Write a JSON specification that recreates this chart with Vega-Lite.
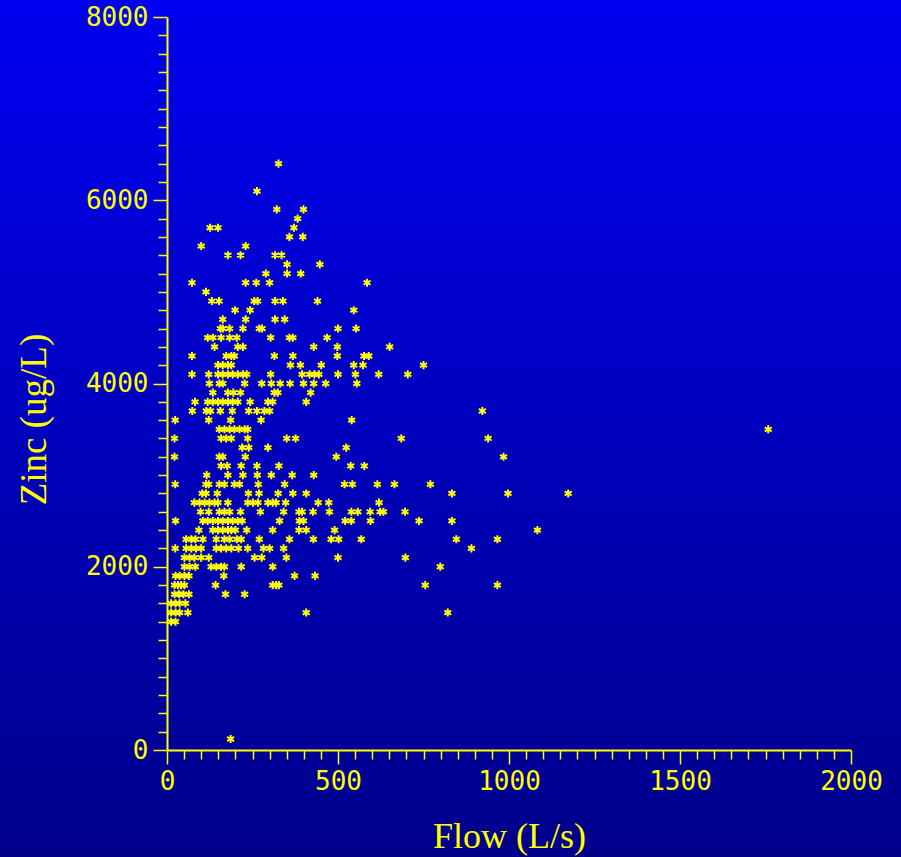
{
  "$schema": "https://vega.github.io/schema/vega-lite/v6.json",
  "width": 684,
  "height": 733,
  "autosize": "none",
  "padding": {"left": 167, "top": 17, "right": 50, "bottom": 107},
  "background": "#0000c0",
  "config": {"view": {"stroke": null}},
  "layer": [
    {
      "data": {"values": [{}]},
      "mark": {
        "type": "rect",
        "fill": {
          "gradient": "linear",
          "x1": 0, "y1": 0, "x2": 0, "y2": 1,
          "stops": [
            {"offset": 0, "color": "#0000F5"},
            {"offset": 1, "color": "#000088"}
          ]
        }
      },
      "encoding": {
        "x": {
          "datum": -600, "type": "quantitative",
          "scale": {"domain": [0, 2000], "nice": false},
          "title": "Flow (L/s)",
          "axis": {
            "values": [0,50,100,150,200,250,300,350,400,450,500,550,600,650,700,750,800,850,900,950,1000,1050,1100,1150,1200,1250,1300,1350,1400,1450,1500,1550,1600,1650,1700,1750,1800,1850,1900,1950,2000],
            "labelExpr": "datum.value % 500 === 0 ? '' + datum.value : ''",
            "tickSize": {"condition": {"test": "datum.value % 500 === 0", "value": 14}, "value": 9},
            "grid": false,
            "zindex": 1,
            "domainColor": "#FFFF00",
            "domainWidth": 2,
            "tickColor": "#FFFF00",
            "tickWidth": 1.5,
            "labelColor": "#FFFF00",
            "labelFont": "DejaVu Sans Mono",
            "labelFontSize": 26,
            "labelPadding": 4,
            "labelFlush": false,
            "labelOverlap": false,
            "labelBaseline": "top",
            "titleColor": "#FFFF00",
            "titleFont": "Liberation Serif",
            "titleFontSize": 36,
            "titleFontWeight": "normal",
            "titleX": 342,
            "titleY": 97,
            "titleBaseline": "alphabetic",
            "titleAlign": "center"
          }
        },
        "x2": {"datum": 2300},
        "y": {
          "datum": -1400, "type": "quantitative",
          "scale": {"domain": [0, 8000], "nice": false},
          "title": "Zinc (ug/L)",
          "axis": {
            "values": [0,200,400,600,800,1000,1200,1400,1600,1800,2000,2200,2400,2600,2800,3000,3200,3400,3600,3800,4000,4200,4400,4600,4800,5000,5200,5400,5600,5800,6000,6200,6400,6600,6800,7000,7200,7400,7600,7800,8000],
            "labelExpr": "datum.value % 2000 === 0 ? '' + datum.value : ''",
            "tickSize": {"condition": {"test": "datum.value % 2000 === 0", "value": 14}, "value": 9},
            "grid": false,
            "zindex": 1,
            "domainColor": "#FFFF00",
            "domainWidth": 2,
            "tickColor": "#FFFF00",
            "tickWidth": 1.5,
            "labelColor": "#FFFF00",
            "labelFont": "DejaVu Sans Mono",
            "labelFontSize": 26,
            "labelPadding": 5,
            "labelFlush": false,
            "labelOverlap": false,
            "labelBaseline": "middle",
            "titleColor": "#FFFF00",
            "titleFont": "Liberation Serif",
            "titleFontSize": 37,
            "titleFontWeight": "normal",
            "titleAngle": -90,
            "titleX": -122,
            "titleY": 402,
            "titleBaseline": "alphabetic",
            "titleAlign": "center"
          }
        },
        "y2": {"datum": 8500}
      }
    },
    {
      "data": {"values": [
        {"flow":326,"zinc":6400},
        {"flow":263,"zinc":6100},
        {"flow":321,"zinc":5900},{"flow":399,"zinc":5900},
        {"flow":382,"zinc":5800},
        {"flow":126,"zinc":5700},{"flow":149,"zinc":5700},{"flow":371,"zinc":5700},
        {"flow":358,"zinc":5600},{"flow":397,"zinc":5600},
        {"flow":100,"zinc":5500},{"flow":230,"zinc":5500},
        {"flow":178,"zinc":5400},{"flow":215,"zinc":5400},{"flow":316,"zinc":5400},{"flow":335,"zinc":5400},
        {"flow":351,"zinc":5300},{"flow":447,"zinc":5300},
        {"flow":289,"zinc":5200},{"flow":351,"zinc":5200},{"flow":391,"zinc":5200},
        {"flow":73,"zinc":5100},{"flow":230,"zinc":5100},{"flow":261,"zinc":5100},{"flow":300,"zinc":5100},{"flow":585,"zinc":5100},
        {"flow":114,"zinc":5000},
        {"flow":131,"zinc":4900},{"flow":152,"zinc":4900},{"flow":255,"zinc":4900},{"flow":265,"zinc":4900},{"flow":316,"zinc":4900},{"flow":339,"zinc":4900},{"flow":440,"zinc":4900},
        {"flow":199,"zinc":4800},{"flow":243,"zinc":4800},{"flow":546,"zinc":4800},
        {"flow":163,"zinc":4700},{"flow":230,"zinc":4700},{"flow":316,"zinc":4700},{"flow":344,"zinc":4700},
        {"flow":156,"zinc":4600},{"flow":163,"zinc":4600},{"flow":183,"zinc":4600},{"flow":222,"zinc":4600},{"flow":270,"zinc":4600},{"flow":278,"zinc":4600},{"flow":500,"zinc":4600},{"flow":553,"zinc":4600},
        {"flow":119,"zinc":4500},{"flow":134,"zinc":4500},{"flow":158,"zinc":4500},{"flow":183,"zinc":4500},{"flow":204,"zinc":4500},{"flow":303,"zinc":4500},{"flow":358,"zinc":4500},{"flow":368,"zinc":4500},{"flow":468,"zinc":4500},
        {"flow":139,"zinc":4400},{"flow":207,"zinc":4400},{"flow":222,"zinc":4400},{"flow":429,"zinc":4400},{"flow":498,"zinc":4400},{"flow":651,"zinc":4400},
        {"flow":73,"zinc":4300},{"flow":173,"zinc":4300},{"flow":188,"zinc":4300},{"flow":197,"zinc":4300},{"flow":314,"zinc":4300},{"flow":368,"zinc":4300},{"flow":498,"zinc":4300},{"flow":576,"zinc":4300},{"flow":590,"zinc":4300},
        {"flow":149,"zinc":4200},{"flow":163,"zinc":4200},{"flow":178,"zinc":4200},{"flow":188,"zinc":4200},{"flow":361,"zinc":4200},{"flow":390,"zinc":4200},{"flow":451,"zinc":4200},{"flow":546,"zinc":4200},{"flow":573,"zinc":4200},{"flow":750,"zinc":4200},
        {"flow":73,"zinc":4100},{"flow":122,"zinc":4100},{"flow":149,"zinc":4100},{"flow":163,"zinc":4100},{"flow":178,"zinc":4100},{"flow":192,"zinc":4100},{"flow":207,"zinc":4100},{"flow":222,"zinc":4100},{"flow":233,"zinc":4100},{"flow":303,"zinc":4100},{"flow":395,"zinc":4100},{"flow":417,"zinc":4100},{"flow":431,"zinc":4100},{"flow":444,"zinc":4100},{"flow":500,"zinc":4100},{"flow":551,"zinc":4100},{"flow":619,"zinc":4100},{"flow":704,"zinc":4100},
        {"flow":124,"zinc":4000},{"flow":153,"zinc":4000},{"flow":163,"zinc":4000},{"flow":227,"zinc":4000},{"flow":277,"zinc":4000},{"flow":305,"zinc":4000},{"flow":331,"zinc":4000},{"flow":360,"zinc":4000},{"flow":399,"zinc":4000},{"flow":429,"zinc":4000},{"flow":464,"zinc":4000},{"flow":555,"zinc":4000},
        {"flow":134,"zinc":3900},{"flow":178,"zinc":3900},{"flow":194,"zinc":3900},{"flow":215,"zinc":3900},{"flow":314,"zinc":3900},{"flow":324,"zinc":3900},{"flow":420,"zinc":3900},
        {"flow":82,"zinc":3800},{"flow":119,"zinc":3800},{"flow":134,"zinc":3800},{"flow":149,"zinc":3800},{"flow":163,"zinc":3800},{"flow":178,"zinc":3800},{"flow":192,"zinc":3800},{"flow":207,"zinc":3800},{"flow":243,"zinc":3800},{"flow":295,"zinc":3800},{"flow":309,"zinc":3800},{"flow":407,"zinc":3800},
        {"flow":74,"zinc":3700},{"flow":115,"zinc":3700},{"flow":127,"zinc":3700},{"flow":156,"zinc":3700},{"flow":191,"zinc":3700},{"flow":239,"zinc":3700},{"flow":263,"zinc":3700},{"flow":285,"zinc":3700},{"flow":300,"zinc":3700},{"flow":922,"zinc":3700},
        {"flow":24,"zinc":3600},{"flow":122,"zinc":3600},{"flow":186,"zinc":3600},{"flow":275,"zinc":3600},{"flow":540,"zinc":3600},
        {"flow":153,"zinc":3500},{"flow":168,"zinc":3500},{"flow":183,"zinc":3500},{"flow":197,"zinc":3500},{"flow":212,"zinc":3500},{"flow":227,"zinc":3500},{"flow":236,"zinc":3500},{"flow":1758,"zinc":3500},
        {"flow":22,"zinc":3400},{"flow":158,"zinc":3400},{"flow":173,"zinc":3400},{"flow":188,"zinc":3400},{"flow":236,"zinc":3400},{"flow":350,"zinc":3400},{"flow":376,"zinc":3400},{"flow":685,"zinc":3400},{"flow":939,"zinc":3400},
        {"flow":220,"zinc":3300},{"flow":239,"zinc":3300},{"flow":295,"zinc":3300},{"flow":524,"zinc":3300},
        {"flow":22,"zinc":3200},{"flow":153,"zinc":3200},{"flow":163,"zinc":3200},{"flow":229,"zinc":3200},{"flow":495,"zinc":3200},{"flow":984,"zinc":3200},
        {"flow":158,"zinc":3100},{"flow":176,"zinc":3100},{"flow":217,"zinc":3100},{"flow":263,"zinc":3100},{"flow":327,"zinc":3100},{"flow":537,"zinc":3100},{"flow":577,"zinc":3100},
        {"flow":116,"zinc":3000},{"flow":178,"zinc":3000},{"flow":222,"zinc":3000},{"flow":264,"zinc":3000},{"flow":305,"zinc":3000},{"flow":366,"zinc":3000},{"flow":429,"zinc":3000},
        {"flow":24,"zinc":2900},{"flow":114,"zinc":2900},{"flow":122,"zinc":2900},{"flow":153,"zinc":2900},{"flow":168,"zinc":2900},{"flow":197,"zinc":2900},{"flow":212,"zinc":2900},{"flow":267,"zinc":2900},{"flow":344,"zinc":2900},{"flow":519,"zinc":2900},{"flow":542,"zinc":2900},{"flow":615,"zinc":2900},{"flow":665,"zinc":2900},{"flow":770,"zinc":2900},
        {"flow":103,"zinc":2800},{"flow":114,"zinc":2800},{"flow":147,"zinc":2800},{"flow":238,"zinc":2800},{"flow":269,"zinc":2800},{"flow":325,"zinc":2800},{"flow":368,"zinc":2800},{"flow":407,"zinc":2800},{"flow":833,"zinc":2800},{"flow":997,"zinc":2800},{"flow":1173,"zinc":2800},
        {"flow":80,"zinc":2700},{"flow":95,"zinc":2700},{"flow":110,"zinc":2700},{"flow":124,"zinc":2700},{"flow":139,"zinc":2700},{"flow":149,"zinc":2700},{"flow":178,"zinc":2700},{"flow":236,"zinc":2700},{"flow":251,"zinc":2700},{"flow":266,"zinc":2700},{"flow":295,"zinc":2700},{"flow":309,"zinc":2700},{"flow":319,"zinc":2700},{"flow":347,"zinc":2700},{"flow":442,"zinc":2700},{"flow":473,"zinc":2700},{"flow":620,"zinc":2700},
        {"flow":98,"zinc":2600},{"flow":122,"zinc":2600},{"flow":153,"zinc":2600},{"flow":168,"zinc":2600},{"flow":183,"zinc":2600},{"flow":215,"zinc":2600},{"flow":273,"zinc":2600},{"flow":341,"zinc":2600},{"flow":386,"zinc":2600},{"flow":395,"zinc":2600},{"flow":427,"zinc":2600},{"flow":475,"zinc":2600},{"flow":539,"zinc":2600},{"flow":558,"zinc":2600},{"flow":594,"zinc":2600},{"flow":623,"zinc":2600},{"flow":633,"zinc":2600},{"flow":696,"zinc":2600},
        {"flow":25,"zinc":2500},{"flow":105,"zinc":2500},{"flow":119,"zinc":2500},{"flow":134,"zinc":2500},{"flow":149,"zinc":2500},{"flow":163,"zinc":2500},{"flow":178,"zinc":2500},{"flow":192,"zinc":2500},{"flow":207,"zinc":2500},{"flow":220,"zinc":2500},{"flow":329,"zinc":2500},{"flow":387,"zinc":2500},{"flow":399,"zinc":2500},{"flow":521,"zinc":2500},{"flow":539,"zinc":2500},{"flow":595,"zinc":2500},{"flow":737,"zinc":2500},{"flow":833,"zinc":2500},
        {"flow":93,"zinc":2400},{"flow":134,"zinc":2400},{"flow":149,"zinc":2400},{"flow":163,"zinc":2400},{"flow":178,"zinc":2400},{"flow":188,"zinc":2400},{"flow":200,"zinc":2400},{"flow":233,"zinc":2400},{"flow":309,"zinc":2400},{"flow":386,"zinc":2400},{"flow":407,"zinc":2400},{"flow":490,"zinc":2400},{"flow":1083,"zinc":2400},
        {"flow":56,"zinc":2300},{"flow":71,"zinc":2300},{"flow":83,"zinc":2300},{"flow":105,"zinc":2300},{"flow":144,"zinc":2300},{"flow":168,"zinc":2300},{"flow":183,"zinc":2300},{"flow":204,"zinc":2300},{"flow":217,"zinc":2300},{"flow":270,"zinc":2300},{"flow":358,"zinc":2300},{"flow":428,"zinc":2300},{"flow":480,"zinc":2300},{"flow":502,"zinc":2300},{"flow":568,"zinc":2300},{"flow":846,"zinc":2300},{"flow":966,"zinc":2300},
        {"flow":24,"zinc":2200},{"flow":56,"zinc":2200},{"flow":71,"zinc":2200},{"flow":85,"zinc":2200},{"flow":100,"zinc":2200},{"flow":144,"zinc":2200},{"flow":158,"zinc":2200},{"flow":173,"zinc":2200},{"flow":188,"zinc":2200},{"flow":209,"zinc":2200},{"flow":236,"zinc":2200},{"flow":282,"zinc":2200},{"flow":300,"zinc":2200},{"flow":341,"zinc":2200},{"flow":890,"zinc":2200},
        {"flow":51,"zinc":2100},{"flow":66,"zinc":2100},{"flow":80,"zinc":2100},{"flow":100,"zinc":2100},{"flow":122,"zinc":2100},{"flow":256,"zinc":2100},{"flow":277,"zinc":2100},{"flow":349,"zinc":2100},{"flow":500,"zinc":2100},{"flow":697,"zinc":2100},
        {"flow":51,"zinc":2000},{"flow":66,"zinc":2000},{"flow":83,"zinc":2000},{"flow":129,"zinc":2000},{"flow":144,"zinc":2000},{"flow":158,"zinc":2000},{"flow":168,"zinc":2000},{"flow":217,"zinc":2000},{"flow":309,"zinc":2000},{"flow":799,"zinc":2000},
        {"flow":25,"zinc":1900},{"flow":37,"zinc":1900},{"flow":51,"zinc":1900},{"flow":64,"zinc":1900},{"flow":166,"zinc":1900},{"flow":373,"zinc":1900},{"flow":433,"zinc":1900},
        {"flow":22,"zinc":1800},{"flow":32,"zinc":1800},{"flow":41,"zinc":1800},{"flow":51,"zinc":1800},{"flow":142,"zinc":1800},{"flow":309,"zinc":1800},{"flow":319,"zinc":1800},{"flow":327,"zinc":1800},{"flow":755,"zinc":1800},{"flow":966,"zinc":1800},
        {"flow":22,"zinc":1700},{"flow":35,"zinc":1700},{"flow":48,"zinc":1700},{"flow":64,"zinc":1700},{"flow":171,"zinc":1700},{"flow":227,"zinc":1700},
        {"flow":12,"zinc":1600},{"flow":25,"zinc":1600},{"flow":37,"zinc":1600},{"flow":54,"zinc":1600},
        {"flow":12,"zinc":1500},{"flow":25,"zinc":1500},{"flow":37,"zinc":1500},{"flow":61,"zinc":1500},{"flow":407,"zinc":1500},{"flow":821,"zinc":1500},
        {"flow":12,"zinc":1400},{"flow":25,"zinc":1400},
        {"flow":186,"zinc":120}
      ]},
      "mark": {
        "type": "point",
        "shape": "M0,-1L0,1M-0.866,-0.5L0.866,0.5M-0.866,0.5L0.866,-0.5",
        "filled": false,
        "stroke": "#FFFF00",
        "strokeWidth": 2,
        "size": 66,
        "opacity": 1
      },
      "encoding": {
        "x": {
          "field": "flow",
          "type": "quantitative",
          "scale": {"domain": [0, 2000], "nice": false},
          "title": "Flow (L/s)",
          "axis": {
            "values": [0,50,100,150,200,250,300,350,400,450,500,550,600,650,700,750,800,850,900,950,1000,1050,1100,1150,1200,1250,1300,1350,1400,1450,1500,1550,1600,1650,1700,1750,1800,1850,1900,1950,2000],
            "labelExpr": "datum.value % 500 === 0 ? '' + datum.value : ''",
            "tickSize": {"condition": {"test": "datum.value % 500 === 0", "value": 14}, "value": 9},
            "grid": false,
            "zindex": 1,
            "domainColor": "#FFFF00",
            "domainWidth": 2,
            "tickColor": "#FFFF00",
            "tickWidth": 1.5,
            "labelColor": "#FFFF00",
            "labelFont": "DejaVu Sans Mono",
            "labelFontSize": 26,
            "labelPadding": 4,
            "labelFlush": false,
            "labelOverlap": false,
            "labelBaseline": "top",
            "titleColor": "#FFFF00",
            "titleFont": "Liberation Serif",
            "titleFontSize": 36,
            "titleFontWeight": "normal",
            "titleX": 342,
            "titleY": 97,
            "titleBaseline": "alphabetic",
            "titleAlign": "center"
          }
        },
        "y": {
          "field": "zinc",
          "type": "quantitative",
          "scale": {"domain": [0, 8000], "nice": false},
          "title": "Zinc (ug/L)",
          "axis": {
            "values": [0,200,400,600,800,1000,1200,1400,1600,1800,2000,2200,2400,2600,2800,3000,3200,3400,3600,3800,4000,4200,4400,4600,4800,5000,5200,5400,5600,5800,6000,6200,6400,6600,6800,7000,7200,7400,7600,7800,8000],
            "labelExpr": "datum.value % 2000 === 0 ? '' + datum.value : ''",
            "tickSize": {"condition": {"test": "datum.value % 2000 === 0", "value": 14}, "value": 9},
            "grid": false,
            "zindex": 1,
            "domainColor": "#FFFF00",
            "domainWidth": 2,
            "tickColor": "#FFFF00",
            "tickWidth": 1.5,
            "labelColor": "#FFFF00",
            "labelFont": "DejaVu Sans Mono",
            "labelFontSize": 26,
            "labelPadding": 5,
            "labelFlush": false,
            "labelOverlap": false,
            "labelBaseline": "middle",
            "titleColor": "#FFFF00",
            "titleFont": "Liberation Serif",
            "titleFontSize": 37,
            "titleFontWeight": "normal",
            "titleAngle": -90,
            "titleX": -122,
            "titleY": 402,
            "titleBaseline": "alphabetic",
            "titleAlign": "center"
          }
        }
      }
    }
  ]
}
